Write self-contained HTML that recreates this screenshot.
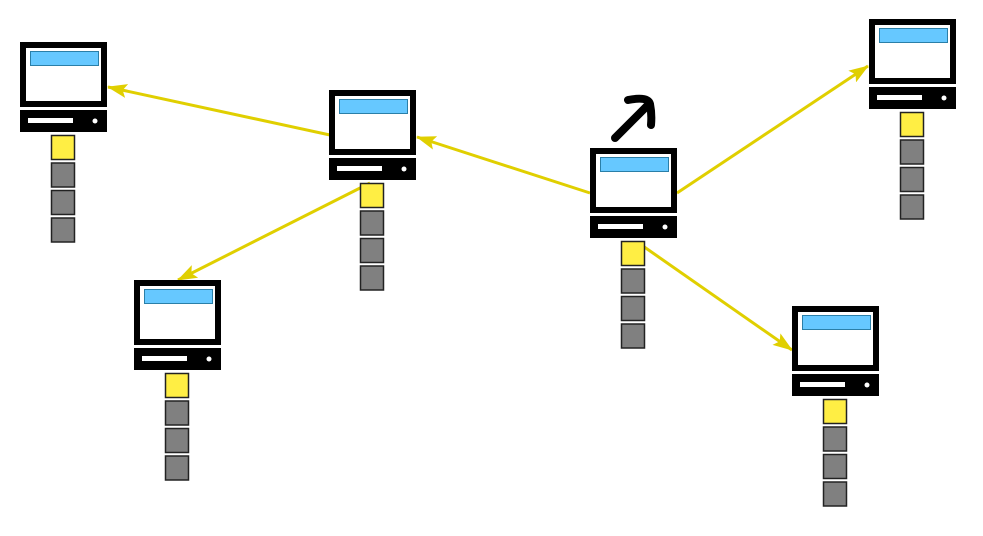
<!DOCTYPE html>
<html><head><style>
body{margin:0;width:983px;height:531px;background:#fff;overflow:hidden;position:relative}
</style></head><body>
<svg width="983" height="531" viewBox="0 0 983 531" xmlns="http://www.w3.org/2000/svg">
<defs>
<marker id="ah" markerWidth="10" markerHeight="8" refX="9" refY="4" orient="auto" markerUnits="userSpaceOnUse" viewBox="0 0 10 8">
<path d="M0,0 L10,4 L0,8 Z" fill="#e0cf00"/>
</marker>
<marker id="a2" markerWidth="20" markerHeight="14" refX="19" refY="7" orient="auto" markerUnits="userSpaceOnUse" viewBox="0 0 20 14">
<path d="M0,0 L20,7 L0,14 L4,7 Z" fill="#e0cf00"/>
</marker>
<g id="pc">
<rect x="3" y="3" width="81" height="59" fill="#fff" stroke="#000" stroke-width="6"/>
<rect x="10.5" y="9.5" width="68" height="14" fill="#66c8ff" stroke="#2a7fa8" stroke-width="1"/>
<rect x="0" y="68" width="87" height="22" fill="#000"/>
<rect x="8" y="76" width="45" height="5" fill="#fff"/>
<circle cx="75" cy="79" r="2.5" fill="#fff"/>
<rect x="31.5" y="93.5" width="23" height="24" fill="#ffee44" stroke="#222" stroke-width="1.5"/>
<rect x="31.5" y="121" width="23" height="24" fill="#808080" stroke="#222" stroke-width="1.5"/>
<rect x="31.5" y="148.5" width="23" height="24" fill="#808080" stroke="#222" stroke-width="1.5"/>
<rect x="31.5" y="176" width="23" height="24" fill="#808080" stroke="#222" stroke-width="1.5"/>
</g>
</defs>
<g stroke="#e0cf00" stroke-width="3" fill="none" marker-end="url(#a2)">
<line x1="590" y1="193" x2="417" y2="137"/>
<line x1="330" y1="135" x2="108" y2="87"/>
<line x1="370" y1="183" x2="178" y2="280"/>
<line x1="677" y1="193" x2="868" y2="66"/>
<line x1="640" y1="244" x2="792" y2="350"/>
</g>
<use href="#pc" x="20" y="42"/>
<use href="#pc" x="329" y="90"/>
<use href="#pc" x="134" y="280"/>
<use href="#pc" x="590" y="148"/>
<use href="#pc" x="869" y="19"/>
<use href="#pc" x="792" y="306"/>
<g stroke="#000" stroke-width="8" stroke-linecap="round" fill="none">
<line x1="615" y1="138" x2="649" y2="104"/>
<path d="M628,100 Q648,96 650,104 Q652,114 651,125"/>
</g>
</svg>
</body></html>
